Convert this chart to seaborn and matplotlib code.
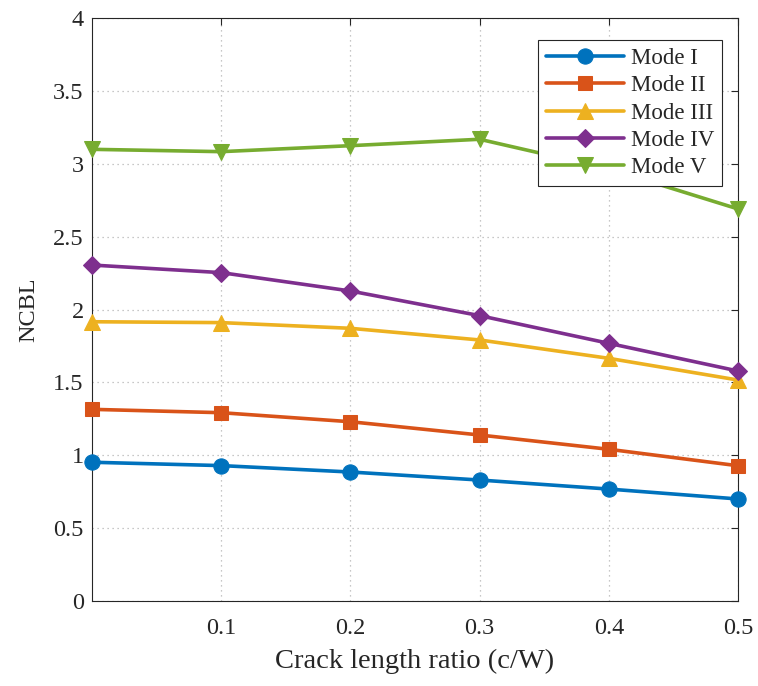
import matplotlib
matplotlib.use("Agg")
import matplotlib.pyplot as plt
import seaborn as sns
import pandas as pd

ratio = [0.0, 0.1, 0.2, 0.3, 0.4, 0.5]
mode_1 = [0.952, 0.929, 0.885, 0.830, 0.768, 0.700]
mode_2 = [1.315, 1.292, 1.230, 1.139, 1.041, 0.928]
mode_3 = [1.916, 1.910, 1.871, 1.791, 1.665, 1.516]
mode_4 = [2.305, 2.253, 2.127, 1.958, 1.768, 1.578]
mode_5 = [3.099, 3.083, 3.124, 3.168, 2.965, 2.690]
names = ["Mode I", "Mode II", "Mode III", "Mode IV", "Mode V"]
colors = ["#0072BD", "#D95319", "#EDB120", "#7E2F8E", "#77AC30"]
markers = ["o", "s", "^", "D", "v"]
msizes = [11, 10, 11, 9, 11]
xticks = [0.1, 0.2, 0.3, 0.4, 0.5]
yticks = [0, 0.5, 1, 1.5, 2, 2.5, 3, 3.5, 4]

sns.set_style("white")
plt.rcParams["font.family"] = ["Liberation Serif", "DejaVu Serif"]

rows = []
for name, vals in zip(names, [mode_1, mode_2, mode_3, mode_4, mode_5]):
    for x, v in zip(ratio, vals):
        rows.append({"ratio": x, "NCBL": v, "Mode": name})
df = pd.DataFrame(rows)

fig = plt.figure(figsize=(7.58, 6.86), dpi=100)
ax = fig.add_axes([92/758, 1-601/686, (738-92)/758, (601-18)/686])

for name, c, m, ms in zip(names, colors, markers, msizes):
    sub = df[df["Mode"] == name]
    sns.lineplot(data=sub, x="ratio", y="NCBL", ax=ax, color=c, marker=m,
                 markersize=ms, linewidth=2.6, markeredgecolor=c,
                 label=name, errorbar=None, clip_on=False, zorder=3)

ax.set_xlim(0, 0.5)
ax.set_ylim(0, 4)
ax.set_xticks(xticks)
ax.set_xticklabels([f"{t:g}" for t in xticks])
ax.set_yticks(yticks)
ax.set_yticklabels([f"{t:g}" for t in yticks])
ax.grid(True, linestyle=(0, (1, 3)), color="#b5b5b5", linewidth=0.9)
for s in ax.spines.values():
    s.set_visible(True)
    s.set_color("#262626")
    s.set_linewidth(0.8)
ax.tick_params(direction="in", length=5, width=0.8, colors="#262626",
               top=True, right=True, labelsize=17.5)
ax.tick_params(axis="x", pad=12)
ax.tick_params(axis="y", pad=6)
ax.set_xlabel("Crack length ratio (c/W)", fontsize=20.5, color="#262626", labelpad=7)
ax.set_ylabel("NCBL", fontsize=17.5, color="#262626", labelpad=10)

leg = ax.legend(loc="upper right", bbox_to_anchor=(0.976, 0.963), fontsize=16.5,
                frameon=True, fancybox=False, edgecolor="#262626", framealpha=1,
                handlelength=3.4, borderpad=0.35, labelspacing=0.28,
                handletextpad=0.3, borderaxespad=0)
leg.get_frame().set_linewidth(0.8)
leg.set_zorder(5)

fig.savefig("out.png", dpi=100)
